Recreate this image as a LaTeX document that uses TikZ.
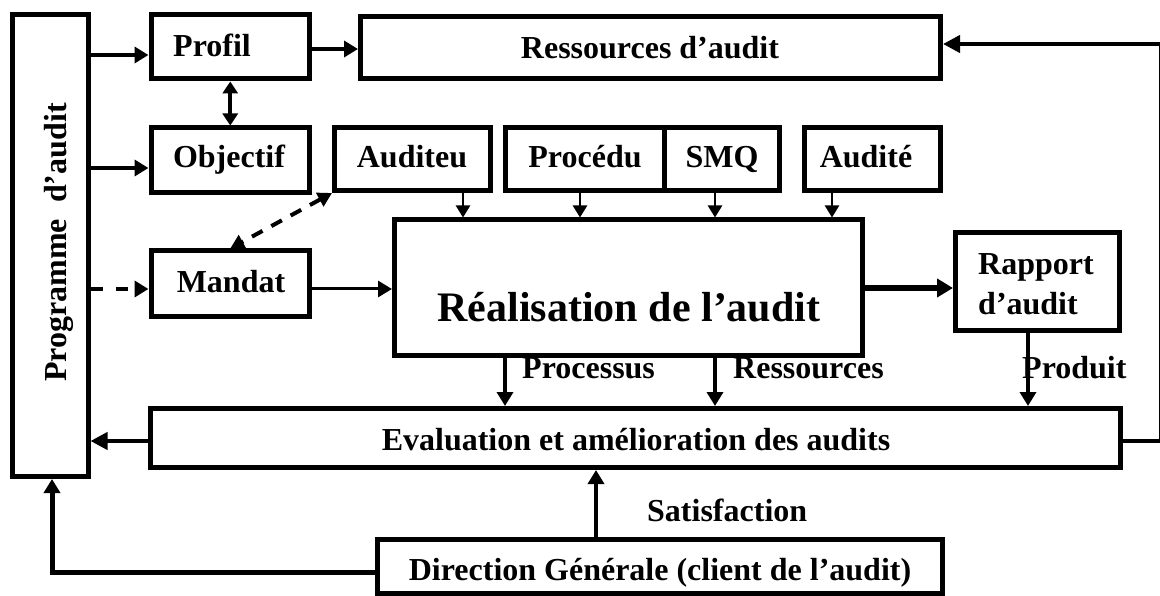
\documentclass[tikz,border=0pt]{standalone}
\usepackage{fontspec}
\setmainfont{Liberation Serif}
\usetikzlibrary{arrows.meta}
\begin{document}
\begin{tikzpicture}[x=1pt,y=-1pt]
\tikzset{
  bx/.style={draw, line width=5pt, inner sep=0pt, fill=white},
  lbl/.style={font=\fontsize{32}{38}\selectfont\bfseries, inner sep=0pt},
  arr/.style={line width=4pt, -{Triangle[length=14pt,width=16pt]}},
  sarr/.style={line width=2.5pt, -{Triangle[length=12pt,width=14pt]}},
  darr/.style={line width=4pt, dash pattern=on 12pt off 10pt, {Triangle[length=14pt,width=15pt]}-{Triangle[length=14pt,width=15pt]}},
  dblarr/.style={line width=4pt, {Triangle[length=12pt,width=15pt]}-{Triangle[length=12pt,width=15pt]}}
}
\clip (0,0) rectangle (1160,596);
\fill[white] (0,0) rectangle (1160,596);
% boxes
\node[bx, minimum width=75.5pt, minimum height=462pt] (prog) at (50.25,245.5) {};
\node[lbl, rotate=90, anchor=base] (tprog) at (66,242.5) {Programme\hspace{16pt}d’audit};
\node[bx, minimum width=158.5pt, minimum height=64.5pt] (profil) at (230.25,46.75) {};
\node[lbl, anchor=base west] (tprofil) at (173,57) {Profil};
\node[bx, minimum width=158.5pt, minimum height=65pt] (obj) at (230.25,160.5) {};
\node[lbl, anchor=base] (tobj) at (229,168) {Objectif};
\node[bx, minimum width=580pt, minimum height=62.5pt] (ress) at (650.5,47.75) {};
\node[lbl, anchor=base] (tress) at (650,59) {Ressources d’audit};
\node[bx, minimum width=156pt, minimum height=63pt] (aud) at (412.5,159) {};
\node[lbl, anchor=base] (taud) at (412,168) {Auditeu};
\node[bx, minimum width=159pt, minimum height=63pt] (proc) at (585,159) {};
\node[lbl, anchor=base] (tproc) at (585,168) {Procédu};
\node[bx, minimum width=115pt, minimum height=63pt] (smq) at (722,159) {};
\node[lbl, anchor=base] (tsmq) at (722,168) {SMQ};
\node[bx, minimum width=136pt, minimum height=63pt] (audt) at (872.5,159) {};
\node[lbl, anchor=base] (taudt) at (866,168) {Audité};
\node[bx, minimum width=468pt, minimum height=135pt] (real) at (628.5,287.5) {};
\node[lbl, font=\fontsize{42}{48}\selectfont\bfseries, anchor=base] (treal) at (629,322) {Réalisation de l’audit};
\node[bx, minimum width=158.5pt, minimum height=65pt] (mandat) at (230.25,283.5) {};
\node[lbl, anchor=base] (tmandat) at (231,293) {Mandat};
\node[bx, minimum width=164pt, minimum height=97.5pt] (rap) at (1037.5,281.75) {};
\node[lbl, anchor=base west] (trap1) at (978,275) {Rapport};
\node[lbl, anchor=base west] (trap2) at (978,315) {d’audit};
\node[bx, minimum width=970pt, minimum height=59pt] (eval) at (635,438) {};
\node[lbl, anchor=base] (teval) at (636,450) {Evaluation et amélioration des audits};
\node[bx, minimum width=565pt, minimum height=54pt] (dir) at (659.5,566) {};
\node[lbl, anchor=base] (tdir) at (660,580) {Direction Générale (client de l’audit)};
% connectors
\draw[arr] (prog.east |- 0,55) -- (profil.west |- 0,55);
\draw[arr] (prog.east |- 0,168) -- (obj.west |- 0,168);
\draw[dblarr] (profil.south) -- (obj.north);
\draw[arr] (profil.east |- 0,49) -- (ress.west |- 0,49);
\draw[arr, dash pattern=on 12pt off 13pt] (prog.east |- 0,289) -- (mandat.west |- 0,289);
\draw[darr] (aud.south west) -- (mandat.north);
\draw[arr, line width=3pt] (mandat.east |- 0,289) -- (real.west |- 0,289);
\foreach \x/\n in {463/aud,580/proc,715/smq,832/audt}
  \draw[sarr] (\n.south -| \x,0) -- (real.north -| \x,0);
\draw[line width=6pt, -{Triangle[length=16pt,width=18pt]}] (real.east |- 0,288) -- (rap.west |- 0,288);
\draw[arr, line width=3.5pt] (real.south -| 505,0) -- (eval.north -| 505,0);
\draw[arr, line width=3.5pt] (real.south -| 715,0) -- (eval.north -| 715,0);
\draw[arr, line width=3.5pt] (rap.south -| 1028,0) -- (eval.north -| 1028,0);
\draw[arr, -{Triangle[length=17pt,width=17pt]}] (eval.west |- 0,441) -- (prog.east |- 0,441);
\coordinate (rb) at (1160.5,441);
\coordinate (rt) at (1160.5,44);
\draw[arr, -{Triangle[length=17pt,width=17pt]}] (eval.east |- 0,441) -- (rb) -- (rt) -- (ress.east |- 0,44);
\draw[arr, line width=3.5pt] (dir.north -| 596,0) -- (eval.south -| 596,0);
\coordinate (lb) at (52,572);
\draw[arr, line width=5pt] (dir.west |- 0,572) -- (lb) -- (prog.south -| 52,0);
% labels
\node[lbl, anchor=base west] (lproc) at (522,378) {Processus};
\node[lbl, anchor=base west] (lress) at (733,378) {Ressources};
\node[lbl, anchor=base west] (lprod) at (1022,378) {Produit};
\node[lbl, anchor=base west] (lsat) at (647,521) {Satisfaction};
\end{tikzpicture}
\end{document}
